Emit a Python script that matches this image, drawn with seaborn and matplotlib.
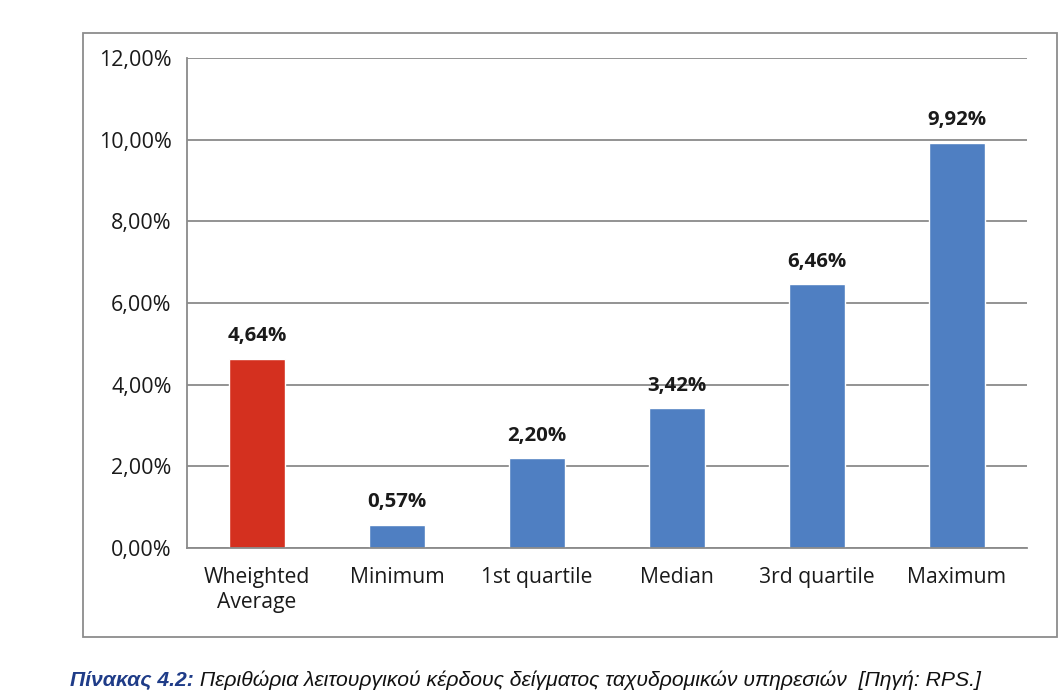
import matplotlib
matplotlib.use("Agg")
import matplotlib.pyplot as plt
import matplotlib.patches as mpatches
import seaborn as sns

categories = ["Wheighted\nAverage", "Minimum", "1st quartile", "Median", "3rd quartile", "Maximum"]
values = [4.64, 0.57, 2.20, 3.42, 6.46, 9.92]
colors = ["#d4301f", "#4f7fc2", "#4f7fc2", "#4f7fc2", "#4f7fc2", "#4f7fc2"]
yticks = [0, 2, 4, 6, 8, 10, 12]
caption_head = "Πίνακας 4.2:"
caption_body = " Περιθώρια λειτουργικού κέρδους δείγματος ταχυδρομικών υπηρεσιών  [Πηγή: RPS.]"

sns.set_style("white")
plt.rcParams['font.family'] = ['Open Sans', 'DejaVu Sans']

fig = plt.figure(figsize=(10.64, 6.96), dpi=100)
fig.patch.set_facecolor("white")

# outer chart frame
frame = mpatches.Rectangle((83/1064, 1-637/696), (1057-83)/1064, (637-33)/696,
                           transform=fig.transFigure, fill=False,
                           edgecolor="#8c8c8c", linewidth=1.3)
fig.add_artist(frame)

ax = fig.add_axes([187/1064, 1-548/696, (1027-187)/1064, (548-58)/696])
sns.barplot(x=list(range(len(categories))), y=values, hue=list(range(len(categories))),
            palette=colors, legend=False, width=0.4, ax=ax, saturation=1)

ax.set_xlim(-0.5, len(categories) - 0.5)
ax.set_ylim(0, 12)
ax.set_yticks(yticks)
ax.set_yticklabels([f"{v:.2f}".replace(".", ",") + "%" for v in yticks], fontsize=15.5, color="#1a1a1a")
ax.yaxis.grid(True, color="#8a8a8a", linewidth=1.3)
ax.set_axisbelow(True)

# x ticks at category boundaries, labels at centres
ax.set_xticks([i - 0.5 for i in range(len(categories) + 1)])
ax.set_xticklabels([])
ax.set_xticks(list(range(len(categories))), minor=True)
ax.set_xticklabels(categories, minor=True, fontsize=15.2, color="#1a1a1a", linespacing=1.25)
ax.tick_params(axis="x", which="major", length=6, color="#8a8a8a", width=1.2, direction="out")
ax.tick_params(axis="x", which="minor", length=0, pad=14)
ax.tick_params(axis="y", length=6, color="#8a8a8a", width=1.2, pad=5)
ax.set_xlabel("")
ax.set_ylabel("")

for s in ["top", "right"]:
    ax.spines[s].set_visible(False)
for s in ["left", "bottom"]:
    ax.spines[s].set_color("#8a8a8a")
    ax.spines[s].set_linewidth(1.3)

for i, v in enumerate(values):
    ax.annotate(f"{v:.2f}".replace(".", ",") + "%", (i, v), xytext=(0, 9),
                textcoords="offset points", ha="center", va="bottom",
                fontsize=14.7, fontweight="bold", color="#1a1a1a")

# caption
t1 = fig.text(70/1064, 1-680/696, caption_head, fontsize=15.2, fontweight="bold",
              fontstyle="italic", color="#1f3c88", family=["Liberation Sans", "DejaVu Sans"],
              va="center", ha="left")
fig.canvas.draw()
bb = t1.get_window_extent(renderer=fig.canvas.get_renderer())
fig.text(bb.x1 / fig.bbox.width, 1-680/696, caption_body, fontsize=15.2,
         fontstyle="italic", color="#111111", family=["Liberation Sans", "DejaVu Sans"],
         va="center", ha="left")

fig.savefig("out.png", dpi=100, facecolor="white")
